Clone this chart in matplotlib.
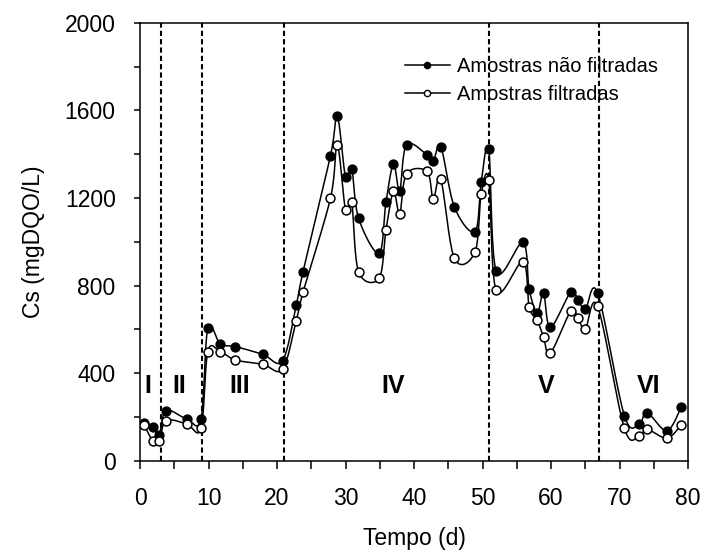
import numpy as np
import matplotlib
matplotlib.use('Agg')
import matplotlib.pyplot as plt

plt.rcParams['font.family'] = ['Liberation Sans', 'DejaVu Sans']

# dias de operacao
tempo = [0.6, 1.9, 2.8, 3.8, 6.8, 8.9, 9.9, 11.7, 13.9, 17.9, 20.8, 22.8, 23.8,
         27.8, 28.8, 30.0, 30.9, 31.9, 34.9, 35.9, 37.0, 37.9, 38.9, 41.9, 42.8,
         43.9, 45.9, 48.9, 49.8, 50.9, 52.0, 55.9, 56.8, 58.0, 58.9, 59.9, 62.9,
         63.9, 65.0, 66.8, 70.7, 72.9, 74.0, 76.9, 79.0]
nao_filtradas = [175, 157, 119, 230, 192, 192, 607, 534, 522, 487, 457, 710, 864,
                 1393, 1575, 1295, 1332, 1108, 948, 1180, 1355, 1233, 1443, 1397, 1367,
                 1435, 1158, 1047, 1272, 1423, 866, 997, 784, 677, 768, 610, 773,
                 735, 693, 766, 207, 169, 221, 138, 245]
filtradas = [164, 91, 91, 184, 169, 149, 499, 499, 461, 441, 419, 640, 770,
             1199, 1443, 1146, 1180, 864, 834, 1055, 1230, 1128, 1310, 1321, 1195,
             1286, 924, 954, 1218, 1283, 778, 909, 702, 641, 565, 492, 685,
             651, 603, 705, 149, 114, 145, 104, 164]

# limites das fases e rotulos
fases_lim = [3, 9, 21, 51, 67]
fases_nome = ['I', 'II', 'III', 'IV', 'V', 'VI']
fases_x = [1.2, 5.8, 14.5, 36.9, 59.3, 74.2]
fases_y = 340


def suave(x, y, n=20):
    # curva suavizada (tipo linha suavizada do Excel, Catmull-Rom)
    x = np.asarray(x, float)
    y = np.asarray(y, float)
    px = np.concatenate([[x[0]], x, [x[-1]]])
    py = np.concatenate([[y[0]], y, [y[-1]]])
    t = np.linspace(0, 1, n)
    xs, ys = [], []
    for i in range(1, len(px) - 2):
        for p, out in ((px, xs), (py, ys)):
            p0, p1, p2, p3 = p[i - 1], p[i], p[i + 1], p[i + 2]
            out.extend(0.5 * (2 * p1 + (-p0 + p2) * t
                              + (2 * p0 - 5 * p1 + 4 * p2 - p3) * t ** 2
                              + (-p0 + 3 * p1 - 3 * p2 + p3) * t ** 3))
    return xs, ys


fig, ax = plt.subplots(figsize=(7.05, 5.54), dpi=100)
fig.subplots_adjust(left=0.1986, right=0.976, top=0.959, bottom=0.168)

for xl in fases_lim:
    ax.axvline(xl, color='black', lw=1.5, ls=(0, (2.5, 1.5)), zorder=1)

ms = 6.4
xs, ys = suave(tempo, nao_filtradas)
ax.plot(xs, ys, color='black', lw=1.1, zorder=2)
xs, ys = suave(tempo, filtradas)
ax.plot(xs, ys, color='black', lw=1.1, zorder=2)
ax.plot(tempo, nao_filtradas, 'o', color='black', ms=ms, zorder=3)
ax.plot(tempo, filtradas, 'o', mfc='white', mec='black', mew=1.1, ms=ms, zorder=3)

# entradas da legenda
ax.plot([], [], '-o', color='black', lw=1.1, ms=ms, label='Amostras não filtradas')
ax.plot([], [], '-o', color='black', mfc='white', lw=1.1, ms=ms, label='Amostras filtradas')

for nome, xf in zip(fases_nome, fases_x):
    ax.text(xf, fases_y, nome, fontsize=18, fontweight='bold', ha='center', va='center')

ax.set_xlim(0, 80)
ax.set_ylim(0, 2000)
ax.set_xticks(range(0, 81, 10))
ax.set_xticks(range(0, 81, 5), minor=True)
ax.set_yticks(range(0, 2001, 400))
ax.set_yticks(range(0, 2001, 200), minor=True)
ax.tick_params(which='both', direction='out', width=1.1, labelsize=16.5, color='black')
ax.tick_params(axis='x', which='both', length=6, pad=13)
ax.tick_params(axis='y', which='both', length=4.5, pad=13)
for s in ax.spines.values():
    s.set_linewidth(1.1)

ax.set_xlabel('Tempo (d)', fontsize=16.5, labelpad=12)
ax.set_ylabel('Cs (mgDQO/L)', fontsize=16.5, labelpad=14)

handles, labels = ax.get_legend_handles_labels()
ax.legend(handles[-2:], labels[-2:], loc='upper left', bbox_to_anchor=(0.484, 0.922),
          frameon=False, fontsize=14.5, handlelength=2.2, handletextpad=0.35,
          labelspacing=0.45, borderpad=0, borderaxespad=0, markerscale=0.7)

fig.savefig('out.png', dpi=100)
